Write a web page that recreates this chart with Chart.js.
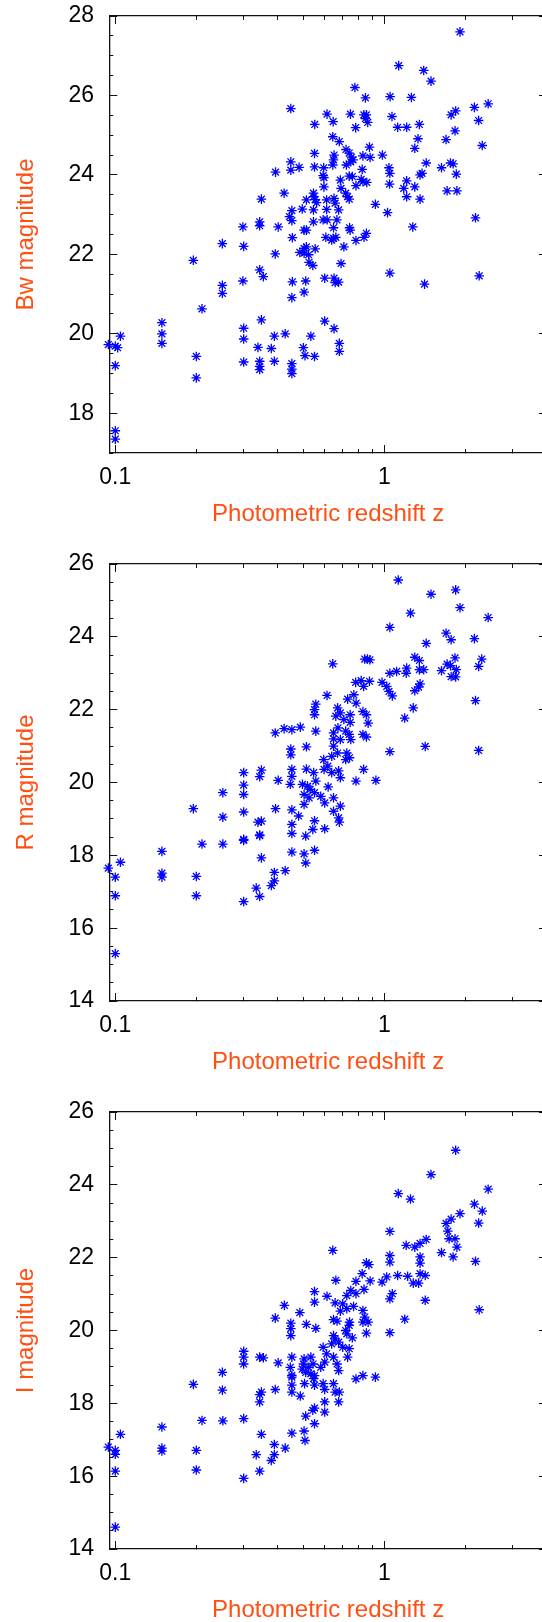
<!DOCTYPE html>
<html>
<head>
<meta charset="utf-8">
<script src="https://cdn.jsdelivr.net/npm/chart.js@4/dist/chart.umd.min.js"></script>
<style>
    html, body { margin: 0; padding: 0; background: #fff; overflow: hidden; width: 542px; height: 1622px; }
    canvas { position: absolute; left: 0; }
</style>
</head>
<body>
<canvas id="bwChart" width="547" height="548" style="top:0px"></canvas>
<canvas id="rChart" width="547" height="548" style="top:548px"></canvas>
<canvas id="iChart" width="547" height="548" style="top:1096px"></canvas>
<script>
// x axis (shared by all panels)
const xMinorTicks = [0.1, 0.2, 0.3, 0.4, 0.5, 0.6, 0.7, 0.8, 0.9, 1, 2, 3, 4];
const xMajorTicks = [0.1, 1];
const xTickLabels = ["0.1", "1"];
const xTitle = "Photometric redshift z";

// Bw panel
const bwZ = [
    1.91, 1.13, 1.40, 1.49, 0.777, 0.85, 1.05, 1.26, 0.449, 2.16, 2.43, 1.84, 1.77, 0.612, 0.748, 0.839, 0.857, 0.85, 0.867, 0.645,
    1.067, 0.551, 0.782, 1.12, 1.21, 1.349, 2.24, 0.643, 0.68, 1.333, 1.695, 1.83, 2.31, 1.297, 0.88, 0.72, 0.74, 0.755, 0.765, 0.75,
    0.55, 0.65, 0.832, 0.885, 0.983, 0.449, 0.449, 0.482, 0.55, 0.595, 0.643, 0.647, 0.722, 0.827, 1.04, 1.048, 1.43, 1.63, 1.76, 1.80,
    1.85, 1.357, 1.38, 0.394, 0.592, 0.596, 0.686, 0.74, 0.76, 0.82, 0.832, 0.86, 0.784, 1.045, 1.21, 1.18, 1.297, 0.596, 0.69, 0.718,
    0.73, 0.74, 0.424, 1.71, 1.86, 1.21, 1.357, 0.349, 0.545, 0.546, 0.553, 0.56, 0.513, 0.61, 0.65, 0.656, 0.926, 0.495, 0.61, 0.676,
    0.545, 0.453, 1.027, 0.444, 0.453, 0.592, 0.613, 0.666, 0.545, 2.18, 0.344, 0.344, 0.298, 0.403, 0.647, 0.742, 0.746, 1.275, 0.503, 0.513,
    0.857, 0.84, 0.784, 0.606, 0.647, 0.66, 0.637, 0.455, 0.25, 0.3, 0.707, 0.513, 0.503, 0.553, 0.485, 0.503, 0.523, 0.393, 0.195, 0.525,
    0.542, 0.69, 1.048, 2.25, 0.344, 0.355, 0.298, 0.455, 0.51, 0.6, 0.65, 0.656, 0.676, 0.25, 0.25, 0.503, 1.41, 0.453, 0.21, 0.149,
    0.149, 0.149, 0.1045, 0.0942, 0.1, 0.102, 0.1, 0.1, 0.1, 0.2, 0.2, 0.3, 0.3, 0.3, 0.349, 0.339, 0.344, 0.344, 0.344, 0.38,
    0.39, 0.39, 0.428, 0.453, 0.453, 0.453, 0.5, 0.507, 0.533, 0.55, 0.6, 0.65, 0.68, 0.68
];
const bwMag = [
    27.6, 26.75, 26.63, 26.36, 26.2, 25.94, 25.97, 25.95, 25.67, 25.7, 25.79, 25.61, 25.51, 25.53, 25.53, 25.51, 25.51, 25.42, 25.32, 25.34,
    25.47, 25.27, 25.19, 25.2, 25.2, 25.27, 25.37, 24.96, 24.84, 24.91, 24.89, 25.11, 24.74, 24.67, 24.7, 24.64, 24.55, 24.45, 24.38, 24.33,
    24.54, 24.5, 24.48, 24.44, 24.5, 24.33, 24.12, 24.19, 24.2, 24.18, 24.25, 24.38, 24.25, 24.14, 24.18, 24.04, 24.3, 24.18, 24.3, 24.28,
    24.02, 24.0, 24.04, 24.07, 23.98, 23.93, 23.87, 23.97, 23.96, 23.89, 23.83, 23.81, 23.73, 23.77, 23.85, 23.66, 23.7, 23.7, 23.66, 23.54,
    23.45, 23.39, 23.54, 23.6, 23.6, 23.45, 23.39, 23.39, 23.54, 23.45, 23.38, 23.3, 23.37, 23.37, 23.41, 23.29, 23.26, 23.14, 23.13, 23.12,
    23.12, 23.1, 23.05, 22.95, 22.85, 22.87, 22.87, 22.87, 22.82, 22.92, 22.82, 22.72, 22.69, 22.69, 22.67, 22.67, 22.61, 22.69, 22.61, 22.61,
    22.53, 22.43, 22.35, 22.43, 22.4, 22.43, 22.36, 22.42, 22.27, 22.2, 22.19, 22.19, 22.15, 22.14, 22.05, 22.03, 21.99, 22.01, 21.85, 21.8,
    21.72, 21.77, 21.53, 21.46, 21.61, 21.44, 21.33, 21.31, 21.33, 21.4, 21.4, 21.29, 21.3, 21.22, 21.02, 21.05, 21.25, 20.91, 20.63, 20.28,
    20.0, 19.76, 19.94, 19.73, 19.69, 19.65, 19.2, 17.56, 17.35, 19.43, 18.89, 20.14, 19.87, 19.29, 20.35, 19.66, 19.31, 19.18, 19.1, 19.63,
    19.94, 19.31, 20.0, 19.25, 19.11, 19.0, 19.65, 19.45, 19.94, 19.43, 20.32, 20.13, 19.76, 19.56
];
const bwTicks = [18, 20, 22, 24, 26, 28];

// R panel
const rZ = [
    1.126, 1.84, 1.49, 1.91, 1.25, 2.43, 1.048, 1.695, 1.77, 2.16, 1.43, 0.643, 0.845, 0.865, 0.883, 1.297, 1.349, 1.83, 2.3, 2.24,
    1.71, 1.76, 1.85, 1.84, 1.77, 1.63, 1.21, 1.205, 1.11, 1.048, 1.349, 1.4, 0.98, 1.02, 1.04, 1.07, 1.357, 1.34, 1.297, 0.88,
    0.82, 0.782, 0.837, 0.77, 0.73, 0.785, 2.18, 0.612, 1.28, 1.19, 0.556, 0.55, 0.55, 0.67, 0.66, 0.686, 0.707, 0.746, 0.746, 0.832,
    0.857, 0.87, 0.832, 0.857, 0.393, 0.424, 0.453, 0.487, 0.556, 0.647, 0.647, 0.647, 0.672, 0.718, 0.74, 0.75, 0.686, 0.67, 0.725, 0.718,
    0.742, 0.637, 0.595, 0.616, 0.597, 0.637, 0.676, 0.686, 1.048, 1.418, 2.24, 0.449, 0.449, 0.513, 0.3, 0.3, 0.3, 0.3, 0.349, 0.344,
    0.251, 0.251, 0.195, 0.403, 0.453, 0.453, 0.447, 0.513, 0.546, 0.556, 0.496, 0.518, 0.53, 0.55, 0.503, 0.525, 0.503, 0.618, 0.58, 0.6,
    0.647, 0.686, 0.647, 0.676, 0.68, 0.784, 0.93, 0.837, 0.394, 0.453, 0.48, 0.55, 0.6, 0.349, 0.339, 0.453, 0.453, 0.344, 0.3, 0.51,
    0.542, 0.21, 0.251, 0.3, 0.344, 0.349, 0.453, 0.503, 0.51, 0.55, 0.39, 0.39, 0.38, 0.428, 0.334, 0.344, 0.3, 0.2, 0.2, 0.149,
    0.149, 0.149, 0.0942, 0.1, 0.1045, 0.1, 0.1
];
const rMag = [
    25.56, 25.29, 25.17, 24.8, 24.65, 24.53, 24.26, 24.1, 23.92, 23.95, 23.82, 23.26, 23.39, 23.39, 23.37, 23.44, 23.35, 23.42, 23.39, 23.19,
    23.25, 23.21, 23.1, 22.9, 22.91, 23.07, 23.14, 23.0, 23.05, 23.0, 23.1, 23.1, 22.75, 22.64, 22.5, 22.38, 22.71, 22.62, 22.52, 22.78,
    22.8, 22.75, 22.64, 22.41, 22.29, 22.18, 22.25, 22.39, 22.05, 21.77, 22.15, 22.0, 21.86, 22.05, 21.82, 21.91, 21.73, 21.86, 21.65, 21.95,
    21.86, 21.63, 21.32, 21.25, 21.36, 21.48, 21.45, 21.52, 21.41, 21.36, 21.2, 21.0, 21.5, 21.41, 21.32, 21.18, 21.18, 20.81, 20.81, 20.63,
    20.68, 20.72, 20.63, 20.45, 20.36, 20.27, 20.32, 20.13, 20.85, 20.99, 20.88, 20.92, 20.76, 20.98, 20.27, 19.93, 19.67, 19.19, 20.34, 20.16,
    19.72, 19.05, 19.28, 20.06, 20.36, 20.17, 19.95, 20.37, 20.27, 20.04, 19.95, 19.9, 19.81, 19.72, 19.67, 19.58, 19.4, 19.88, 19.62, 19.44,
    19.58, 19.35, 19.21, 19.03, 18.91, 20.04, 20.06, 20.36, 19.28, 19.25, 19.08, 18.95, 18.73, 18.94, 18.91, 18.85, 18.6, 18.56, 18.44, 18.53,
    18.71, 18.31, 18.31, 18.41, 18.54, 17.93, 18.09, 18.04, 17.79, 18.14, 17.53, 17.3, 17.17, 17.58, 17.1, 16.87, 16.73, 17.42, 16.89, 18.11,
    17.51, 17.4, 17.65, 17.4, 17.81, 16.89, 15.3
];
const rTicks = [14, 16, 18, 20, 22, 24, 26];

// I panel
const iZ = [
    1.84, 1.49, 2.43, 1.126, 1.25, 2.16, 2.31, 1.91, 1.77, 1.695, 2.24, 1.72, 1.74, 1.83, 1.86, 1.80, 1.63, 1.048, 1.43, 1.357,
    1.205, 1.297, 0.643, 2.18, 1.048, 1.048, 1.357, 1.357, 0.857, 0.876, 0.827, 0.885, 0.784, 0.98, 1.02, 1.12, 1.22, 1.28, 1.34, 1.357,
    1.418, 0.66, 0.55, 0.55, 0.612, 0.75, 0.784, 0.84, 0.725, 1.048, 1.07, 1.418, 2.25, 0.425, 0.485, 0.393, 0.656, 0.7, 0.686, 0.725,
    0.768, 0.832, 0.845, 0.832, 0.87, 0.857, 0.647, 0.667, 0.742, 0.74, 0.513, 0.556, 0.449, 0.449, 0.449, 1.19, 1.048, 0.647, 0.656, 0.718,
    0.725, 0.76, 0.592, 0.637, 0.676, 0.7, 0.74, 0.61, 0.647, 0.73, 0.667, 0.676, 0.6, 0.58, 0.3, 0.3, 0.3, 0.344, 0.355, 0.25,
    0.403, 0.453, 0.447, 0.453, 0.503, 0.533, 0.5, 0.523, 0.543, 0.495, 0.51, 0.533, 0.55, 0.784, 0.832, 0.926, 0.195, 0.25, 0.349, 0.344,
    0.344, 0.393, 0.453, 0.453, 0.487, 0.453, 0.505, 0.546, 0.55, 0.592, 0.6, 0.647, 0.656, 0.68, 0.676, 0.6, 0.6, 0.55, 0.542, 0.51,
    0.55, 0.453, 0.503, 0.507, 0.21, 0.251, 0.3, 0.349, 0.149, 0.149, 0.149, 0.1045, 0.0942, 0.1, 0.1, 0.1, 0.1, 0.2, 0.2, 0.3,
    0.334, 0.344, 0.39, 0.39, 0.38, 0.428
];
const iMag = [
    24.95, 24.28, 23.88, 23.76, 23.61, 23.47, 23.28, 23.21, 23.06, 22.94, 22.95, 22.73, 22.52, 22.52, 22.29, 22.02, 22.14, 22.72, 22.5, 22.39,
    22.34, 22.29, 22.2, 21.9, 22.06, 21.88, 22.02, 21.85, 21.86, 21.81, 21.56, 21.36, 21.35, 21.33, 21.47, 21.51, 21.49, 21.3, 21.3, 21.56,
    21.51, 21.38, 21.07, 20.78, 20.94, 21.1, 21.01, 21.13, 20.96, 20.87, 21.01, 20.83, 20.57, 20.69, 20.49, 20.34, 20.76, 20.73, 20.53, 20.6,
    20.66, 20.55, 20.37, 20.23, 20.23, 19.93, 20.3, 20.26, 20.23, 20.14, 20.17, 20.06, 20.2, 20.05, 19.86, 20.31, 19.94, 19.86, 19.77, 20.0,
    19.91, 19.8, 19.54, 19.63, 19.68, 19.54, 19.5, 19.36, 19.27, 19.27, 19.08, 18.9, 19.13, 18.99, 19.43, 19.27, 19.08, 19.27, 19.25, 18.85,
    19.11, 19.27, 18.99, 18.72, 19.22, 19.27, 19.08, 18.99, 19.08, 18.94, 18.85, 18.81, 18.76, 18.67, 18.76, 18.72, 18.52, 18.36, 18.31, 18.24,
    18.04, 18.38, 18.5, 18.31, 18.2, 18.77, 18.54, 18.68, 18.5, 18.54, 18.38, 18.54, 18.31, 18.31, 18.04, 18.04, 17.76, 17.87, 17.81, 17.65,
    17.44, 17.18, 17.24, 16.98, 17.53, 17.52, 17.58, 17.15, 17.35, 16.77, 16.69, 17.15, 16.8, 16.71, 16.6, 16.14, 14.6, 16.71, 16.17, 15.94,
    16.59, 16.14, 16.87, 16.59, 16.43, 16.77
];
const iTicks = [14, 16, 18, 20, 22, 24, 26];

const X_MIN = 0.095;
const X_MAX = 4.02;
const FONT_FAMILY = "'Liberation Sans', Arial, Helvetica, sans-serif";
const TITLE_COLOR = "#ff4f12";
const AXIS_COLOR = "#111";

document.addEventListener("DOMContentLoaded", () => {
    createPanel("bwChart", bwZ, bwMag, 17, 28, bwTicks, "Bw magnitude");
    createPanel("rChart", rZ, rMag, 14, 26, rTicks, "R magnitude");
    createPanel("iChart", iZ, iMag, 14, 26, iTicks, "I magnitude");
});

function useTicks(list) {
    return scale => { scale.ticks = list.map(v => ({ value: v })); };
}

// keep label overhang from pushing the plot area around
function fixSize(width, height) {
    return scale => {
        if (scale.isHorizontal()) scale.height = height; else scale.width = width;
        scale.paddingLeft = 0;
        scale.paddingRight = 0;
        scale.paddingTop = 0;
        scale.paddingBottom = 0;
    };
}

// extra axes only carry tick marks, they take no room
function tickAxis(base, position, list, length, showBorder, weight) {
    return Object.assign({}, base, {
        position: position,
        weight: weight,
        afterBuildTicks: useTicks(list),
        afterFit: fixSize(0, 0),
        ticks: { display: false, autoSkip: false },
        grid: { drawOnChartArea: false, tickLength: length, tickColor: AXIS_COLOR, tickWidth: 1 },
        border: { display: showBorder, color: AXIS_COLOR, width: 1.3 }
    });
}

function createPanel(canvasId, zs, mags, yMin, yMax, yMajor, yTitle) {
    const ctx = document.getElementById(canvasId).getContext("2d");
    const yMinor = [];
    for (let v = yMin; v <= yMax; v += 0.5) yMinor.push(v);

    const xBase = { type: "logarithmic", min: X_MIN, max: X_MAX, bounds: "data" };
    const yBase = { type: "linear", min: yMin, max: yMax, bounds: "data" };

    new Chart(ctx, {
        type: "scatter",
        data: {
            datasets: [{
                data: zs.map((z, k) => ({ x: z, y: mags[k] })),
                pointStyle: "star",
                pointRadius: 4.8,
                borderWidth: 1.3,
                borderColor: "#0000ff",
                backgroundColor: "#0000ff",
                clip: false
            }]
        },
        options: {
            responsive: false,
            animation: false,
            devicePixelRatio: 1,
            layout: { autoPadding: false, padding: { top: 16, left: 0, right: 0, bottom: 0 } },
            scales: {
                x: Object.assign({}, xBase, {
                    position: "bottom",
                    weight: 0,
                    afterBuildTicks: useTicks(xMinorTicks),
                    afterFit: fixSize(0, 95),
                    grid: { drawOnChartArea: false, tickLength: -4, tickColor: AXIS_COLOR, tickWidth: 1 },
                    border: { display: true, color: AXIS_COLOR, width: 1.3 },
                    ticks: {
                        autoSkip: false,
                        maxRotation: 0,
                        padding: 15.2,
                        color: "#000",
                        font: { family: FONT_FAMILY, size: 23 },
                        callback: value => {
                            const k = xMajorTicks.indexOf(value);
                            return k >= 0 ? xTickLabels[k] : "";
                        }
                    },
                    title: {
                        display: true,
                        text: xTitle,
                        color: TITLE_COLOR,
                        font: { family: FONT_FAMILY, size: 24 },
                        padding: { top: 0, bottom: 19.6 }
                    }
                }),
                xMajor: tickAxis(xBase, "bottom", xMajorTicks, -8, false, -1),
                xTop: tickAxis(xBase, "top", xMinorTicks, -4, true, 0),
                xTopMajor: tickAxis(xBase, "top", xMajorTicks, -8, false, -1),
                y: Object.assign({}, yBase, {
                    position: "left",
                    weight: 0,
                    afterBuildTicks: useTicks(yMinor),
                    afterFit: fixSize(109.3, 0),
                    grid: { drawOnChartArea: false, tickLength: -4, tickColor: AXIS_COLOR, tickWidth: 1 },
                    border: { display: true, color: AXIS_COLOR, width: 1.3 },
                    ticks: {
                        autoSkip: false,
                        padding: 19.3,
                        color: "#000",
                        font: { family: FONT_FAMILY, size: 23 },
                        callback: value => yMajor.includes(value) ? String(value) : ""
                    },
                    title: {
                        display: true,
                        text: yTitle,
                        color: TITLE_COLOR,
                        font: { family: FONT_FAMILY, size: 24 },
                        padding: { top: 11.6, bottom: 0 }
                    }
                }),
                yMajor: tickAxis(yBase, "left", yMajor, -8, false, -1),
                yRight: tickAxis(yBase, "right", yMajor, -8, true, 0)
            },
            plugins: {
                legend: { display: false },
                tooltip: { enabled: false }
            }
        }
    });
}
</script>
</body>
</html>
